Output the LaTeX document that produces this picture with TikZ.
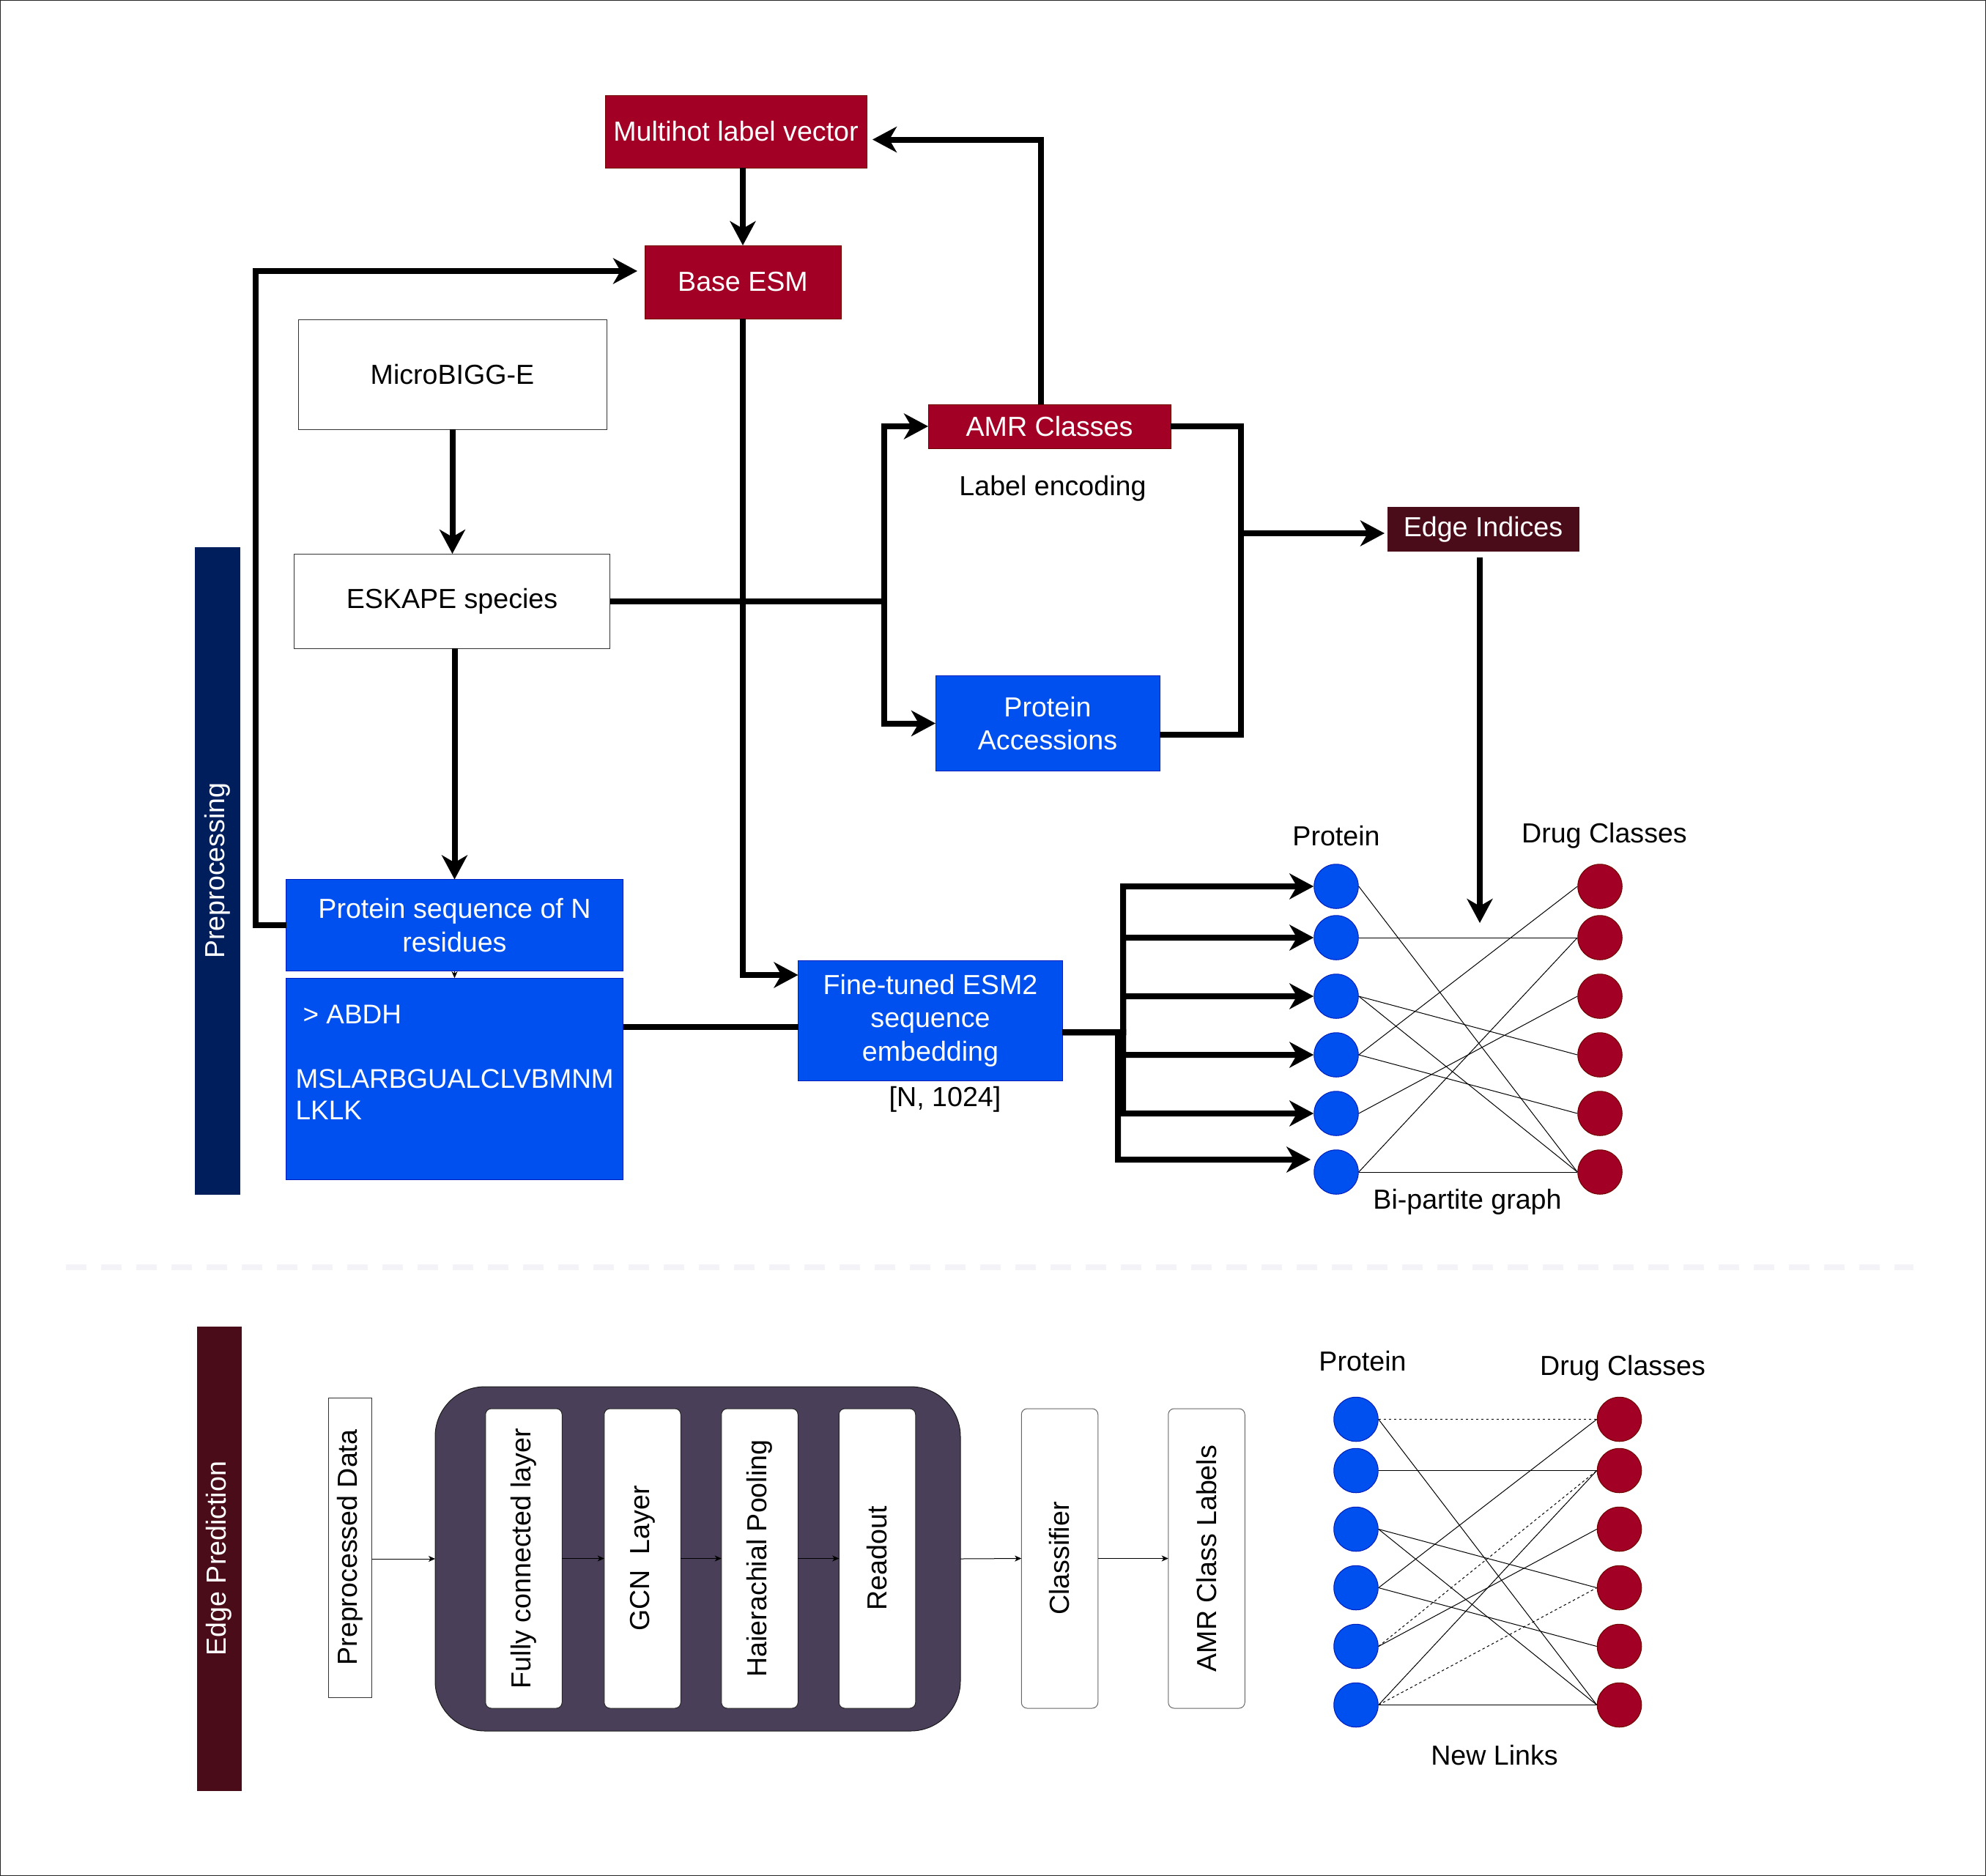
\documentclass[tikz,border=0pt]{standalone}
\usepackage{fontspec}
\setmainfont{Liberation Sans}
\usetikzlibrary{arrows.meta,calc}

\definecolor{crimson}{HTML}{A20025}
\definecolor{crimsonline}{HTML}{6F0000}
\definecolor{accblue}{HTML}{0050EF}
\definecolor{accblueline}{HTML}{001DBC}
\definecolor{navybar}{HTML}{001E5C}
\definecolor{maroon}{HTML}{4A0C18}
\definecolor{layerbg}{HTML}{4A3F58}
\definecolor{sepline}{HTML}{F3F3F8}

\begin{document}
\begin{tikzpicture}[x = 1mm, y = -1mm, font = \fontsize{10.7}{13}\selectfont,
    basebox/.style = {shape = rectangle, inner sep = 0pt, outer sep = 0pt, align = center, line width = 0.1mm},
    redbox/.style = {basebox, draw = crimsonline, fill = crimson, text = white},
    bluebox/.style = {basebox, draw = accblueline, fill = accblue, text = white},
    plainbox/.style = {basebox, draw = black!80, fill = white},
    sidebar/.style = {basebox, draw = #1, fill = #1, text = white, rotate = 90},
    layerbox/.style = {basebox, draw = black!85, fill = white, rounded corners = 0.8mm, rotate = 90,
        minimum width = 40.9mm, minimum height = 10.45mm},
    flow/.style = {line width = 0.8mm, -{Stealth[length = 3.3mm, width = 3.5mm, inset = 1mm]}},
    thin flow/.style = {line width = 0.1mm, -{Stealth[length = 0.9mm, width = 0.8mm, inset = 0.25mm]}},
    pnode/.style = {shape = circle, draw = accblueline, fill = accblue, line width = 0.1mm, minimum size = 6.05mm, inner sep = 0pt},
    dnode/.style = {shape = circle, draw = crimsonline, fill = crimson, line width = 0.1mm, minimum size = 6.05mm, inner sep = 0pt},
    link/.style = {line width = 0.1mm},
    newlink/.style = {line width = 0.1mm, dash pattern = on 0.35mm off 0.35mm}]
    \useasboundingbox (0,0) rectangle (271.1,256.1);
    \draw [line width = 0.1mm, black!85] (0.05,0.05) rectangle (271.05,256.05);

    % preprocessing
    \node (multihot) [redbox, minimum width = 35.7mm, minimum height = 9.9mm] at (100.45,17.95) {Multihot label vector};
    \node (base) [redbox, minimum width = 26.8mm, minimum height = 10mm] at (101.4,38.5) {Base ESM};
    \node (microbigg) [plainbox, minimum width = 42.1mm, minimum height = 15mm] at (61.75,51.1) {MicroBIGG-E};
    \node (eskape) [plainbox, minimum width = 43.1mm, minimum height = 12.9mm] at (61.7,82.05) {ESKAPE species};
    \node (amr) [redbox, minimum width = 33.1mm, minimum height = 6mm] at (143.25,58.2) {AMR Classes};
    \node (labenc) at (143.7,66.7) {Label encoding};
    \node (edge) [basebox, draw = maroon, fill = maroon, text = white, minimum width = 26.1mm, minimum height = 6mm] at (202.45,72.25) {Edge Indices};
    \node (accession) [bluebox, minimum width = 30.6mm, minimum height = 13mm] at (143,98.75) {Protein\\Accessions};
    \node (prepbar) [sidebar = navybar, minimum width = 88.3mm, minimum height = 6.1mm] at (29.65,118.85) {Preprocessing};
    \node (protseq) [bluebox, minimum width = 46mm, minimum height = 12.5mm] at (62.05,126.3) {Protein sequence of N\\residues};
    \node (seqbox) [bluebox, minimum width = 46mm, minimum height = 27.5mm] at (62.05,147.27) {};
    \node (seqtext) [anchor = north west, align = left, text = white, inner sep = 0pt, font = \fontsize{10.5}{12.5}\selectfont]
        at (40.3,137.1) {\hspace{1mm}> ABDH\\[4.4mm]MSLARBGUALCLVBMNM\\LKLK};
    \node (finetuned) [bluebox, minimum width = 36.1mm, minimum height = 16.4mm] at (127,139.3) {Fine-tuned ESM2\\sequence\\embedding};
    \node (dims) at (129,150.1) {[N, 1024]};

    \foreach \i/\y in {1/121, 2/128, 3/136, 4/144, 5/152, 6/160} {
        \node (p\i) [pnode] at (182.4,\y) {};
        \node (d\i) [dnode] at (218.4,\y) {};
    }
    \node (plabel) at (182.4,114.1) {Protein};
    \node (dlabel) at (219,114.1) {Drug Classes};
    \node (bigraph) at (200.3,164.1) {Bi-partite graph};
    \foreach \a/\b in {1/6, 2/2, 3/4, 3/6, 4/1, 4/5, 5/3, 6/2, 6/6}
        \draw [link] (p\a.east) -- (d\b.west);

    \coordinate (loopl) at (34.9,37.0);
    \coordinate (split) at (120.66,82.05);
    \coordinate (join) at (169.4,72.8);
    \coordinate (gtip) at (202,126);
    \coordinate (ftout) at ($(finetuned.east)+(0,1.6)$);
    \coordinate (busa) at (153.3,140.9);
    \coordinate (busb) at (152.6,140.9);

    \draw [flow] (base.north |- multihot.south) -- (base.north);
    \draw [flow] (protseq.west) -| (loopl) -- ($(base.west |- loopl)+(-1,0)$);
    \draw [flow] (base.south) |- ($(finetuned.west)+(0,-6.2)$);
    \draw [flow] (microbigg.south) -- (eskape.north -| microbigg.south);
    \draw [flow] (eskape.south -| protseq.north) -- (protseq.north);
    \draw [thin flow] (protseq.south) -- (seqbox.north);
    \draw [line width = 0.8mm] ($(seqbox.east |- finetuned.west)+(0,0.9)$) -- ($(finetuned.west)+(0,0.9)$);
    \draw [line width = 0.8mm] (eskape.east) -- (split);
    \draw [flow] (split) |- (amr.west);
    \draw [flow] (split) |- (accession.west);
    \draw [flow] ($(amr.north)+(-1.15,0)$) |- ($(multihot.east)+(0.8,1.1)$);
    \draw [line width = 0.8mm] (amr.east) -| (join) |- ($(accession.east)+(0,1.55)$);
    \draw [flow] (join) -- ($(edge.west |- join)+(-0.4,0)$);
    \draw [flow, shorten <= 0.8mm] (edge.south -| gtip) -- (gtip);
    \foreach \i in {1,...,5}
        \draw [flow] (ftout) -- (busa) |- (p\i.west);
    \draw [flow] (ftout) -- (busb) |- ($(p6.west)+(-0.4,-1.7)$);

    % separator
    \draw [sepline, line width = 0.8mm, dash pattern = on 2.8mm off 2mm] (9,173) -- (261.2,173);

    % edge prediction
    \node (edgebar) [sidebar = maroon, minimum width = 63.3mm, minimum height = 6mm] at (29.9,212.75) {Edge Prediction};
    \node (prepdata) [plainbox, rotate = 90, minimum width = 40.9mm, minimum height = 5.95mm] at (47.8,211.25) {Preprocessed Data};
    \node (gnn) [basebox, draw = black!90, fill = layerbg, rounded corners = 6.8mm, minimum width = 71.7mm, minimum height = 47mm] at (95.25,212.8) {};
    \node (fc) [layerbox] at (71.5,212.75) {Fully connected layer};
    \node (gcn) [layerbox] at (87.7,212.75) {GCN\ \ Layer};
    \node (pool) [layerbox] at (103.7,212.75) {Haierachial Pooling};
    \node (readout) [layerbox] at (119.75,212.75) {Readout};
    \node (classifier) [layerbox, draw = black!60] at (144.65,212.75) {Classifier};
    \node (amrlabels) [layerbox, draw = black!60] at (164.7,212.75) {AMR Class Labels};

    \draw [thin flow] (prepdata.south |- gnn.west) -- (gnn.west);
    \draw [thin flow] (fc.south) -- (gcn.north);
    \draw [thin flow] (gcn.south) -- (pool.north);
    \draw [thin flow] (pool.south) -- (readout.north);
    \draw [thin flow] (gnn.east) -- (classifier.north);
    \draw [thin flow] (classifier.south) -- (amrlabels.north);

    \foreach \i/\y in {1/193.75, 2/200.75, 3/208.75, 4/216.75, 5/224.75, 6/232.75} {
        \node (np\i) [pnode] at (185.1,\y) {};
        \node (nd\i) [dnode] at (221.05,\y) {};
    }
    \node (nplabel) at (186,185.8) {Protein};
    \node (ndlabel) at (221.5,186.8) {Drug Classes};
    \node (newlinks) at (204,239.6) {New Links};
    \foreach \a/\b in {1/6, 2/2, 3/4, 3/6, 4/1, 4/5, 5/3, 6/2, 6/6}
        \draw [link] (np\a.east) -- (nd\b.west);
    \foreach \a/\b in {1/1, 5/2, 6/4}
        \draw [newlink] (np\a.east) -- (nd\b.west);
\end{tikzpicture}
\end{document}
